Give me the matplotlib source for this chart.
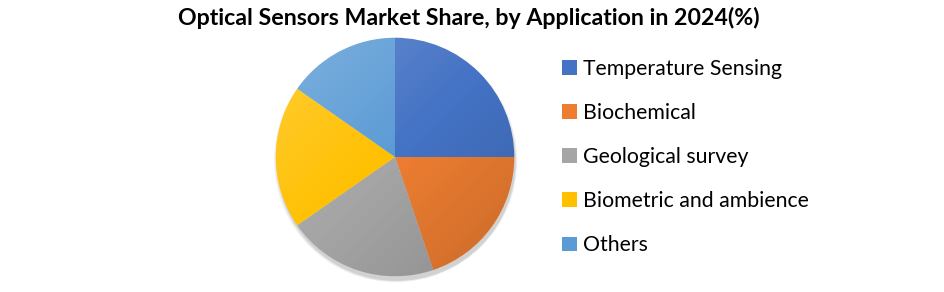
import numpy as np
import matplotlib.pyplot as plt
from matplotlib.patches import Patch, Circle

# Data
labels = ["Temperature Sensing", "Biochemical", "Geological survey",
          "Biometric and ambience", "Others"]
shares = [25.0, 19.8, 20.5, 19.4, 15.3]
colors = ["#4472C4", "#ED7D31", "#A5A5A5", "#FFC000", "#5B9BD5"]

plt.rcParams['font.family'] = ['Lato', 'DejaVu Sans']

W, H = 945, 292
fig = plt.figure(figsize=(W / 100, H / 100), dpi=100)

# pie axes, centre at (395, 157) px from top-left
size = 260
cx, cy = 395, H - 157
ax = fig.add_axes([(cx - size / 2) / W, (cy - size / 2) / H, size / W, size / H])

wedges, _ = ax.pie(shares, colors=colors, startangle=90, counterclock=False,
                   radius=1.0, wedgeprops=dict(linewidth=0))
for w in wedges:
    w.set_zorder(1)

ax.set_aspect('equal')
ax.axis('off')

# soft shadow
for i, a in enumerate([0.05, 0.06, 0.08]):
    ax.add_patch(Circle((0.005 + 0.003 * i, -0.03 - 0.004 * i), 1.0 + 0.01 * (2 - i),
                        color='black', alpha=a, lw=0, zorder=0))

# light-to-dark gradient overlay (top-left lighter, bottom-right darker)
n = 300
xs = np.linspace(-1, 1, n)
X, Y = np.meshgrid(xs, xs[::-1])
t = (X - Y) / 2.0
rgba = np.zeros((n, n, 4))
rgba[..., :3] = np.where(t[..., None] < 0, 1.0, 0.0)
rgba[..., 3] = np.where(t < 0, 0.22 * np.clip(-t, 0, 1), 0.15 * np.clip(t, 0, 1))
im = ax.imshow(rgba, extent=(-1, 1, -1, 1), zorder=2, interpolation='bilinear')
im.set_clip_path(Circle((0, 0), 1.0, transform=ax.transData))

lim = 1.09
ax.set_xlim(-lim, lim)
ax.set_ylim(-lim, lim)

fig.text(469 / W, 1 - 18 / H, "Optical Sensors Market Share, by Application in 2024(%)",
         ha='center', va='center', fontsize=16.7, fontweight='bold', color='black')

handles = [Patch(facecolor=c, edgecolor='none') for c in colors]
fig.legend(handles, labels, loc='center left', bbox_to_anchor=(554 / W, 1 - 157 / H),
           frameon=False, fontsize=15.3, handlelength=0.7, handleheight=0.7,
           handletextpad=0.25, labelspacing=1.14, borderaxespad=0)

fig.savefig("out.png", dpi=100)
